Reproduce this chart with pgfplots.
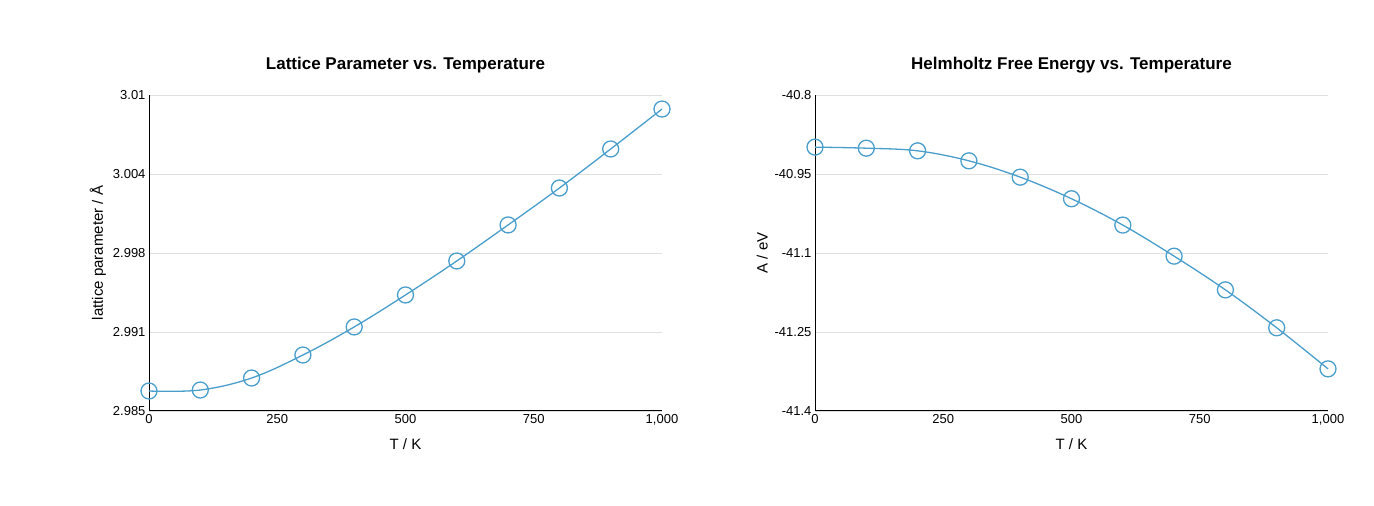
\documentclass[border=0pt]{standalone}
\usepackage{pgfplots}
\pgfplotsset{compat=1.18}
\usepackage{fontspec}
\setmainfont{Liberation Sans}
\definecolor{ln}{RGB}{74,158,204}
\pgfplotsset{
  myax/.style={
    scale only axis, width=513pt, height=316pt,
    xmin=0, xmax=1000, xtick={0,250,500,750,1000},
    axis x line*=bottom, axis y line*=left,
    axis line style={black, line width=1pt},
    tick style={draw=none},
    ymajorgrids, grid style={gray!25, line width=0.8pt},
    ticklabel style={font=\fontsize{13}{15}\selectfont},
    label style={font=\fontsize{15}{17}\selectfont},
    title style={font=\bfseries\fontsize{17}{20}\selectfont, yshift=12pt},
    xlabel={T / K}, xlabel style={yshift=-6pt},
    /pgf/number format/assume math mode=true,
    clip=false,
  },
  myplot/.style={color=ln, line width=1.3pt, smooth, tension=0.6,
    mark=o, mark size=8pt, mark options={fill=white, line width=1.3pt}},
}
\begin{document}
\begin{tikzpicture}
\useasboundingbox (0pt,0pt) rectangle (1374pt,506pt);
\begin{axis}[myax, at={(149pt,95pt)}, anchor=south west,
  title={Lattice Parameter vs. Temperature},
  ylabel={lattice parameter / Å},
  ymin=2.985, ymax=3.01,
  ytick={2.985,2.99125,2.9975,3.00375,3.01},
  yticklabels={2.985,2.991,2.998,3.004,3.01}]
\addplot[myplot] coordinates {
(0,2.98658) (100,2.98666) (200,2.98761) (300,2.98943) (400,2.99165)
(500,2.99418) (600,2.99687) (700,2.99972) (800,3.00264) (900,3.00573) (1000,3.00889)};
\end{axis}
\begin{axis}[myax, at={(815pt,95pt)}, anchor=south west,
  title={Helmholtz Free Energy vs. Temperature},
  ylabel={A / eV},
  ymin=-41.4, ymax=-40.8,
  ytick={-41.4,-41.25,-41.1,-40.95,-40.8},
  yticklabels={-41.4,-41.25,-41.1,-40.95,-40.8}]
\addplot[myplot] coordinates {
(0,-40.899) (100,-40.901) (200,-40.906) (300,-40.925) (400,-40.956)
(500,-40.997) (600,-41.047) (700,-41.106) (800,-41.170) (900,-41.242) (1000,-41.320)};
\end{axis}
\end{tikzpicture}
\end{document}
